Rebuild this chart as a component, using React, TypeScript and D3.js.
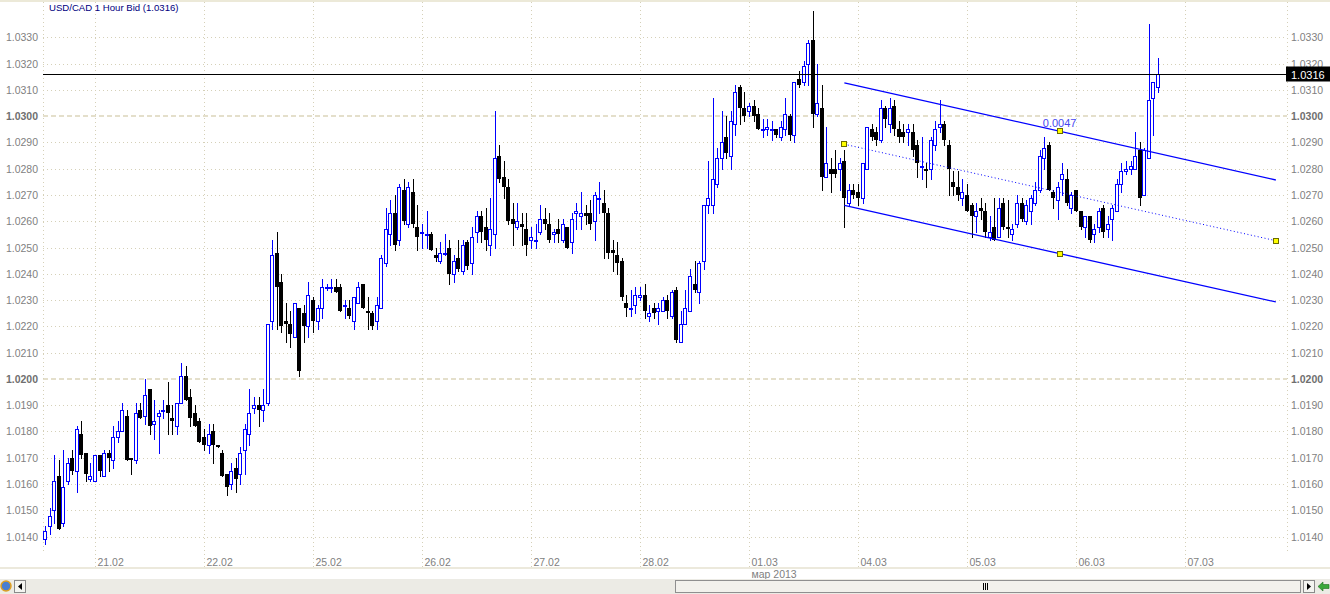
import React from "react";
import * as d3 from "d3";

const title = "USD/CAD 1 Hour Bid (1.0316)";
const lastPrice = 1.0316;
const monthLabel = "мар 2013";
const dayLabels = ["21.02", "22.02", "25.02", "26.02", "27.02", "28.02", "01.03", "04.03", "05.03", "06.03", "07.03"];
const firstDayBar = 11;
const barsPerDay = 24;
const priceTicks = [
  1.014, 1.015, 1.016, 1.017, 1.018, 1.019, 1.02, 1.021, 1.022, 1.023,
  1.024, 1.025, 1.026, 1.027, 1.028, 1.029, 1.03, 1.031, 1.032, 1.033,
];
const boldTicks = [1.02, 1.03];

// hourly bars, 20.02 13:00 .. 06.03 17:00
const opens = [
  1.0139, 1.0144, 1.015, 1.0163, 1.0145, 1.0161, 1.017, 1.0165, 1.0179, 1.0172, 1.0162, 1.0161,
  1.0171, 1.0163, 1.0172, 1.0169, 1.0178, 1.018, 1.0186, 1.017, 1.0169, 1.0188, 1.0186, 1.0196,
  1.0183, 1.0186, 1.0188, 1.019, 1.0185, 1.0182, 1.0191, 1.0201, 1.0193, 1.0187, 1.0184, 1.0178,
  1.0175, 1.018, 1.0175, 1.0172, 1.0164, 1.016, 1.0166, 1.0164, 1.0173, 1.0179, 1.0189, 1.019,
  1.0188, 1.0191, 1.0222, 1.0248, 1.0237, 1.0222, 1.0221, 1.0216, 1.0227, 1.0225, 1.022, 1.023,
  1.0222, 1.0227, 1.0235, 1.0235, 1.0235, 1.0235, 1.0228, 1.0227, 1.0222, 1.0229, 1.0236, 1.0226,
  1.0225, 1.0222, 1.0227, 1.0244, 1.0255, 1.0263, 1.0253, 1.0272, 1.0259, 1.0271, 1.0258, 1.0256,
  1.0255, 1.0255, 1.0247, 1.0245, 1.0248, 1.025, 1.024, 1.0246, 1.0241, 1.0252, 1.0244, 1.0256,
  1.0262, 1.0258, 1.0251, 1.0255, 1.0285, 1.0277, 1.0273, 1.0261, 1.0258, 1.0259, 1.0257, 1.0253,
  1.0253, 1.0256, 1.0261, 1.0259, 1.0255, 1.0257, 1.0253, 1.0258, 1.0252, 1.0263, 1.0262, 1.0263,
  1.0263, 1.026, 1.0269, 1.0267, 1.0263, 1.0249, 1.0247, 1.0245, 1.0229, 1.0227, 1.0228, 1.0231,
  1.0232, 1.0224, 1.0227, 1.0226, 1.0226, 1.023, 1.0224, 1.0234, 1.0214, 1.0221, 1.0226, 1.0236,
  1.0233, 1.0245, 1.0266, 1.0266, 1.0274, 1.0284, 1.0292, 1.0285, 1.0297, 1.0311, 1.0303, 1.0302,
  1.0304, 1.0301, 1.0295, 1.0295, 1.0295, 1.0295, 1.0292, 1.0295, 1.03, 1.0293, 1.0314, 1.0313,
  1.032, 1.0329, 1.0301, 1.0303, 1.0277, 1.028, 1.028, 1.028, 1.0283, 1.0267, 1.0272, 1.0271,
  1.0269, 1.028, 1.0295, 1.0294, 1.0291, 1.0303, 1.0297, 1.0304, 1.0295, 1.0294, 1.0294, 1.0294,
  1.0289, 1.0281, 1.028, 1.028, 1.0289, 1.0296, 1.0297, 1.0289, 1.0275, 1.0273, 1.0269, 1.027,
  1.0266, 1.0262, 1.0265, 1.0264, 1.0254, 1.0258, 1.0254, 1.0267, 1.0258, 1.0255, 1.0259, 1.0267,
  1.026, 1.0264, 1.0267, 1.0272, 1.0284, 1.0289, 1.0271, 1.0268, 1.0276, 1.0276, 1.0265, 1.0272,
  1.0264, 1.0258, 1.0262, 1.0255, 1.0258, 1.0265, 1.0257, 1.0261, 1.0264, 1.0274, 1.0279, 1.028,
  1.028, 1.0287, 1.027, 1.0284, 1.0307, 1.0311,
];
const highs = [
  1.0144, 1.0151, 1.0171, 1.0169, 1.0173, 1.017, 1.0173, 1.0182, 1.0184, 1.0172, 1.0168, 1.0171,
  1.0171, 1.0173, 1.0173, 1.0182, 1.0184, 1.0191, 1.0188, 1.017, 1.0191, 1.0191, 1.02, 1.0196,
  1.0192, 1.0188, 1.0192, 1.0199, 1.019, 1.0191, 1.0206, 1.0205, 1.0196, 1.019, 1.0185, 1.0181,
  1.0183, 1.0183, 1.0175, 1.0173, 1.0164, 1.0168, 1.017, 1.0174, 1.0183, 1.0196, 1.0193, 1.0193,
  1.0196, 1.0221, 1.0253, 1.0256, 1.024, 1.0229, 1.0226, 1.0229, 1.0227, 1.0228, 1.0237, 1.0231,
  1.0228, 1.0238, 1.0236, 1.0238, 1.0238, 1.0236, 1.023, 1.023, 1.0231, 1.0237, 1.0236, 1.0231,
  1.0226, 1.0231, 1.0247, 1.0265, 1.0268, 1.027, 1.0274, 1.0276, 1.0275, 1.0276, 1.0266, 1.0259,
  1.0264, 1.0256, 1.025, 1.0252, 1.0255, 1.0253, 1.0247, 1.0253, 1.0253, 1.0253, 1.0258, 1.0264,
  1.0264, 1.0265, 1.0269, 1.0302, 1.0289, 1.0283, 1.0276, 1.0267, 1.0267, 1.0263, 1.0263, 1.0258,
  1.0259, 1.0266, 1.0265, 1.0263, 1.0257, 1.0261, 1.0261, 1.0258, 1.0263, 1.0267, 1.0271, 1.0266,
  1.0268, 1.0271, 1.0275, 1.0272, 1.0265, 1.0253, 1.0252, 1.0246, 1.0232, 1.0234, 1.0235, 1.0235,
  1.0236, 1.0228, 1.0229, 1.0229, 1.0231, 1.0232, 1.0234, 1.0235, 1.0226, 1.0234, 1.0242, 1.0245,
  1.0245, 1.0266, 1.0283, 1.0307, 1.0288, 1.0302, 1.03, 1.0302, 1.0312, 1.0312, 1.0309, 1.0305,
  1.0306, 1.0303, 1.0299, 1.0299, 1.0298, 1.0295, 1.0298, 1.0307, 1.0301, 1.0313, 1.0317, 1.0321,
  1.0329, 1.034, 1.032, 1.0312, 1.0296, 1.0284, 1.0287, 1.0284, 1.0287, 1.0274, 1.0274, 1.0274,
  1.0282, 1.0296, 1.0297, 1.0296, 1.0306, 1.0304, 1.0307, 1.0306, 1.0298, 1.0297, 1.0297, 1.0297,
  1.0291, 1.0292, 1.0282, 1.0292, 1.0298, 1.0306, 1.0298, 1.0291, 1.0279, 1.0279, 1.0276, 1.0274,
  1.0267, 1.0267, 1.0269, 1.0267, 1.0262, 1.0269, 1.0269, 1.0269, 1.0268, 1.0259, 1.027, 1.0269,
  1.0268, 1.027, 1.0275, 1.0287, 1.0292, 1.029, 1.0272, 1.0275, 1.0282, 1.028, 1.0271, 1.0272,
  1.0264, 1.0262, 1.0262, 1.0259, 1.0265, 1.0266, 1.0262, 1.0266, 1.0276, 1.0282, 1.0283, 1.0283,
  1.0294, 1.029, 1.0288, 1.0335, 1.0313, 1.0322,
];
const lows = [
  1.0137, 1.0141, 1.0145, 1.0143, 1.0144, 1.016, 1.0164, 1.0157, 1.017, 1.0161, 1.0161, 1.0161,
  1.0163, 1.0163, 1.0165, 1.0166, 1.0176, 1.018, 1.0169, 1.0164, 1.0168, 1.0185, 1.0183, 1.0179,
  1.0177, 1.0172, 1.0185, 1.0179, 1.0179, 1.0179, 1.0191, 1.0192, 1.0182, 1.0182, 1.0176, 1.0173,
  1.0172, 1.0168, 1.0174, 1.0163, 1.0156, 1.0158, 1.0157, 1.016, 1.0164, 1.0175, 1.0187, 1.0182,
  1.0184, 1.019, 1.0219, 1.0219, 1.0218, 1.0214, 1.0212, 1.0216, 1.0201, 1.0214, 1.0216, 1.0218,
  1.0219, 1.0223, 1.0234, 1.0233, 1.0233, 1.0226, 1.0223, 1.0223, 1.0219, 1.0229, 1.0227, 1.0219,
  1.0219, 1.0219, 1.0227, 1.0243, 1.0251, 1.0249, 1.0251, 1.0259, 1.0258, 1.0258, 1.0249, 1.025,
  1.025, 1.0249, 1.0245, 1.0244, 1.0247, 1.0236, 1.0237, 1.0241, 1.024, 1.0242, 1.024, 1.0252,
  1.0252, 1.0249, 1.0247, 1.025, 1.0275, 1.0269, 1.0259, 1.0251, 1.0257, 1.0251, 1.0247, 1.025,
  1.025, 1.0255, 1.0257, 1.0252, 1.0252, 1.0252, 1.0252, 1.025, 1.0248, 1.0257, 1.0257, 1.0259,
  1.0257, 1.0253, 1.0263, 1.0246, 1.0246, 1.0241, 1.024, 1.023, 1.0224, 1.0224, 1.0225, 1.023,
  1.0223, 1.0222, 1.0223, 1.0221, 1.0226, 1.0223, 1.0223, 1.0214, 1.0214, 1.0221, 1.0226, 1.0233,
  1.0229, 1.0242, 1.0263, 1.0263, 1.0273, 1.028, 1.0284, 1.028, 1.0293, 1.0297, 1.0298, 1.03,
  1.0298, 1.0295, 1.0292, 1.0293, 1.0291, 1.0292, 1.0291, 1.0293, 1.0291, 1.029, 1.0311, 1.0312,
  1.0312, 1.0296, 1.03, 1.0272, 1.0277, 1.0271, 1.0277, 1.0272, 1.0258, 1.0266, 1.0269, 1.0266,
  1.0267, 1.028, 1.0291, 1.0289, 1.029, 1.0296, 1.0294, 1.0293, 1.029, 1.029, 1.0289, 1.0285,
  1.0277, 1.0276, 1.0273, 1.0276, 1.0287, 1.0294, 1.0289, 1.027, 1.027, 1.0268, 1.0266, 1.0264,
  1.0254, 1.0256, 1.0261, 1.0254, 1.0253, 1.0253, 1.0254, 1.0257, 1.0254, 1.0253, 1.0258, 1.026,
  1.0259, 1.0259, 1.0266, 1.0271, 1.028, 1.0272, 1.0265, 1.0261, 1.027, 1.0266, 1.0263, 1.0264,
  1.0257, 1.0254, 1.0252, 1.0252, 1.0256, 1.0254, 1.0254, 1.0253, 1.0264, 1.0271, 1.0278, 1.0278,
  1.028, 1.0266, 1.027, 1.0284, 1.0293, 1.0309,
];
const closes = [
  1.0142, 1.0148, 1.0161, 1.0143, 1.0159, 1.0168, 1.0165, 1.0181, 1.0171, 1.0164, 1.0163, 1.0171,
  1.0165, 1.0172, 1.017, 1.0178, 1.018, 1.0188, 1.0169, 1.0169, 1.0187, 1.0185, 1.0194, 1.0182,
  1.0184, 1.0187, 1.0188, 1.0187, 1.0184, 1.0191, 1.0201, 1.0192, 1.0185, 1.0182, 1.0176, 1.0175,
  1.0179, 1.0175, 1.0174, 1.0163, 1.0159, 1.0165, 1.0162, 1.0172, 1.0181, 1.0187, 1.019, 1.0188,
  1.019, 1.0221, 1.0247, 1.0235, 1.022, 1.0221, 1.0217, 1.0229, 1.0203, 1.022, 1.0232, 1.0222,
  1.0227, 1.0235, 1.0235, 1.0235, 1.0233, 1.0226, 1.0228, 1.0224, 1.0231, 1.0235, 1.0227, 1.0225,
  1.022, 1.0228, 1.0246, 1.0257, 1.0263, 1.0251, 1.0273, 1.026, 1.0273, 1.0259, 1.0254, 1.0256,
  1.0255, 1.0249, 1.0246, 1.0248, 1.0248, 1.024, 1.0245, 1.0242, 1.0251, 1.0243, 1.0254, 1.0262,
  1.0256, 1.0253, 1.0257, 1.0284, 1.0276, 1.0273, 1.026, 1.0259, 1.026, 1.0258, 1.0251, 1.0254,
  1.0253, 1.0261, 1.0259, 1.0253, 1.0256, 1.0255, 1.0259, 1.025, 1.0261, 1.0264, 1.0263, 1.0262,
  1.0259, 1.027, 1.0269, 1.0263, 1.0248, 1.0248, 1.0244, 1.0231, 1.0227, 1.0227, 1.0232, 1.0232,
  1.0226, 1.0225, 1.0225, 1.0227, 1.023, 1.0226, 1.0233, 1.0215, 1.0221, 1.0227, 1.0239, 1.0234,
  1.0244, 1.0266, 1.0269, 1.0276, 1.0284, 1.029, 1.0286, 1.0298, 1.0309, 1.0303, 1.03, 1.0304,
  1.03, 1.0295, 1.0295, 1.0296, 1.0295, 1.0293, 1.0296, 1.0301, 1.0293, 1.0313, 1.0312, 1.0319,
  1.0328, 1.0301, 1.0305, 1.0277, 1.0282, 1.0278, 1.0278, 1.0282, 1.0269, 1.0272, 1.027, 1.0269,
  1.0282, 1.0296, 1.0292, 1.0291, 1.0303, 1.0299, 1.0303, 1.0295, 1.0292, 1.0292, 1.0295, 1.0287,
  1.0282, 1.0281, 1.0279, 1.0291, 1.0295, 1.0297, 1.0291, 1.028, 1.0273, 1.027, 1.0271, 1.0264,
  1.0262, 1.0264, 1.0264, 1.0256, 1.0256, 1.0253, 1.0265, 1.0258, 1.0257, 1.0257, 1.0267, 1.0261,
  1.0266, 1.0269, 1.0272, 1.0285, 1.0288, 1.0272, 1.0269, 1.0273, 1.0278, 1.0267, 1.027, 1.0264,
  1.0258, 1.0262, 1.0253, 1.0257, 1.0264, 1.0256, 1.0259, 1.0265, 1.0274, 1.0279, 1.028, 1.0281,
  1.0285, 1.0269, 1.0287, 1.0306, 1.0313, 1.0316,
];

// regression channel drawn on the chart
const channelBars = [176, 271];
const channelUpper = [1.03127, 1.02757];
const channelMid = [1.02893, 1.02526];
const channelLower = [1.0266, 1.02293];
const channelMarkBar = 223.4;
const channelWidthLabel = "0.0047";

const W = 1330;
const H = 594;
const plot = { left: 43, right: 1287, top: 2, bottom: 552 };
const font = "'Liberation Sans', Arial, sans-serif";
const gridColor = "#d5d0b8";
const axisText = "#7f7f7f";

export default function App() {
  const x = d3
    .scaleLinear()
    .domain([firstDayBar, firstDayBar + 10 * barsPerDay])
    .range([95, 1185]);
  const y = d3.scaleLinear().domain([1.014, 1.033]).range([536.6, 37.3]);

  const upLine = d3.scaleLinear().domain(channelBars).range(channelUpper);
  const lowLine = d3.scaleLinear().domain(channelBars).range(channelLower);

  const line = d3
    .line<[number, number]>()
    .x((d) => x(d[0]))
    .y((d) => y(d[1]));

  const candles = opens.map((o, i) => {
    const c = closes[i];
    const up = c >= o;
    const cx = Math.round(x(i));
    const yH = Math.round(y(highs[i]));
    const yL = Math.round(y(lows[i]));
    const yT = Math.round(y(Math.max(o, c)));
    const yB = Math.round(y(Math.min(o, c)));
    const col = up ? "#0000ff" : "#000000";
    return (
      <g key={i}>
        <line x1={cx + 0.5} x2={cx + 0.5} y1={yH} y2={yL + 1} stroke={col} strokeWidth={1} />
        {up ? (
          <rect
            x={cx - 1.5}
            y={yT + 0.5}
            width={3}
            height={Math.max(yB - yT, 1)}
            fill="#ffffff"
            stroke={col}
            strokeWidth={1}
          />
        ) : (
          <rect x={cx - 2} y={yT} width={4} height={Math.max(yB - yT, 2)} fill="#000000" />
        )}
      </g>
    );
  });

  const dayX = dayLabels.map((_, k) => Math.round(x(firstDayBar + k * barsPerDay)) + 0.5);
  const lastY = Math.round(y(lastPrice)) + 0.5;

  const markers: [number, number][] = [
    [channelBars[0], channelMid[0]],
    [channelBars[1], channelMid[1]],
    [channelMarkBar, upLine(channelMarkBar)],
    [channelMarkBar, lowLine(channelMarkBar)],
  ];

  return (
    <svg
      width={W}
      height={H}
      style={{ position: "absolute", left: 0, top: 0, background: "#fff" }}
      fontFamily={font}
    >
      <rect x={0} y={0} width={W} height={2} fill="#ece9d8" />

      {/* horizontal grid */}
      {priceTicks.map((t) => {
        const bold = boldTicks.some((b) => Math.abs(b - t) < 1e-6);
        const yy = Math.round(y(t)) + (bold ? 0 : 0.5);
        return (
          <line
            key={t}
            x1={plot.left}
            x2={plot.right}
            y1={yy}
            y2={yy}
            stroke={bold ? "#e4dfcb" : gridColor}
            strokeWidth={bold ? 2 : 1}
            strokeDasharray={bold ? "5,3" : "1,3"}
          />
        );
      })}

      {/* vertical grid */}
      {dayX.map((dx, k) => (
        <line key={k} x1={dx} x2={dx} y1={plot.top} y2={567} stroke={gridColor} strokeDasharray="1,3" />
      ))}
      <line x1={plot.left + 0.5} x2={plot.left + 0.5} y1={plot.top} y2={plot.bottom} stroke={gridColor} strokeDasharray="1,3" />
      <line x1={plot.right + 0.5} x2={plot.right + 0.5} y1={plot.top} y2={plot.bottom} stroke={gridColor} strokeDasharray="1,3" />

      {/* price axis labels */}
      {priceTicks.map((t) => {
        const bold = boldTicks.some((b) => Math.abs(b - t) < 1e-6);
        const yy = y(t) + 4;
        return (
          <g key={t} fontSize={10.5} fill={bold ? "#6f6f6f" : axisText} fontWeight={bold ? "bold" : "normal"}>
            <text x={38} y={yy} textAnchor="end">
              {t.toFixed(4)}
            </text>
            <text x={1291} y={yy}>
              {t.toFixed(4)}
            </text>
          </g>
        );
      })}

      {/* date labels */}
      {dayLabels.map((d, k) => (
        <text key={d} x={dayX[k] + 2} y={566} fontSize={10.5} fill={axisText}>
          {d}
        </text>
      ))}
      <rect x={0} y={567} width={W} height={2} fill="#ece9dc" />
      <text x={dayX[6] + 2} y={578} fontSize={10.5} fill={axisText}>
        {monthLabel}
      </text>

      {/* candles */}
      <g>{candles}</g>

      {/* channel */}
      <path
        d={line([[channelBars[0], channelUpper[0]], [channelBars[1], channelUpper[1]]]) ?? ""}
        stroke="#0000ff"
        strokeWidth={1.3}
        fill="none"
      />
      <path
        d={line([[channelBars[0], channelLower[0]], [channelBars[1], channelLower[1]]]) ?? ""}
        stroke="#0000ff"
        strokeWidth={1.3}
        fill="none"
      />
      <path
        d={line([[channelBars[0], channelMid[0]], [channelBars[1], channelMid[1]]]) ?? ""}
        stroke="#0000ff"
        strokeWidth={1}
        strokeDasharray="1,2.5"
        fill="none"
      />
      {markers.map(([b, v], k) => (
        <rect
          key={k}
          x={Math.round(x(b)) - 2.5}
          y={Math.round(y(v)) - 2.5}
          width={5}
          height={5}
          fill="#ffff00"
          stroke="#6b6b00"
          strokeWidth={1}
        />
      ))}
      <text
        x={x(channelMarkBar)}
        y={y(upLine(channelMarkBar)) - 4}
        textAnchor="middle"
        fontSize={11}
        fill="#4646f0"
      >
        {channelWidthLabel}
      </text>

      {/* last price */}
      <line x1={plot.left} x2={1286} y1={lastY} y2={lastY} stroke="#000" strokeWidth={1} />
      <rect x={1286} y={lastY - 8} width={44} height={15} fill="#000" />
      <text x={1291} y={lastY + 4} fontSize={11} fill="#fff">
        {lastPrice.toFixed(4)}
      </text>

      {/* title */}
      <text x={49} y={11} fontSize={9.6} fill="#000080">
        {title}
      </text>

      {/* scroll bar */}
      <rect x={0} y={579} width={W} height={15} fill="#ecebe5" />
      <circle cx={6} cy={586} r={5} fill="#4a7fd0" stroke="#e0a020" strokeWidth={1.5} />
      <rect x={14.5} y={580.5} width={11} height={12} fill="#f4f4f0" stroke="#8a8a8a" />
      <path d="M18,586.5 L22,583 L22,590 Z" fill="#000" />
      <rect x={675.5} y={580.5} width={625} height={12} fill="#f2f1ec" stroke="#8f8f8f" />
      <rect x={983} y={583} width={1} height={7} fill="#000" />
      <rect x={985} y={583} width={1} height={7} fill="#000" />
      <rect x={987} y={583} width={1} height={7} fill="#000" />
      <rect x={1303.5} y={580.5} width={11} height={12} fill="#f4f4f0" stroke="#8a8a8a" />
      <path d="M1307,583 L1311,586.5 L1307,590 Z" fill="#000" />
      <path d="M1318,586.5 L1323,582 L1323,584.5 L1329,584.5 L1329,588.5 L1323,588.5 L1323,591 Z" fill="#3aa83a" stroke="#1f6e1f" strokeWidth={0.6} />
    </svg>
  );
}
